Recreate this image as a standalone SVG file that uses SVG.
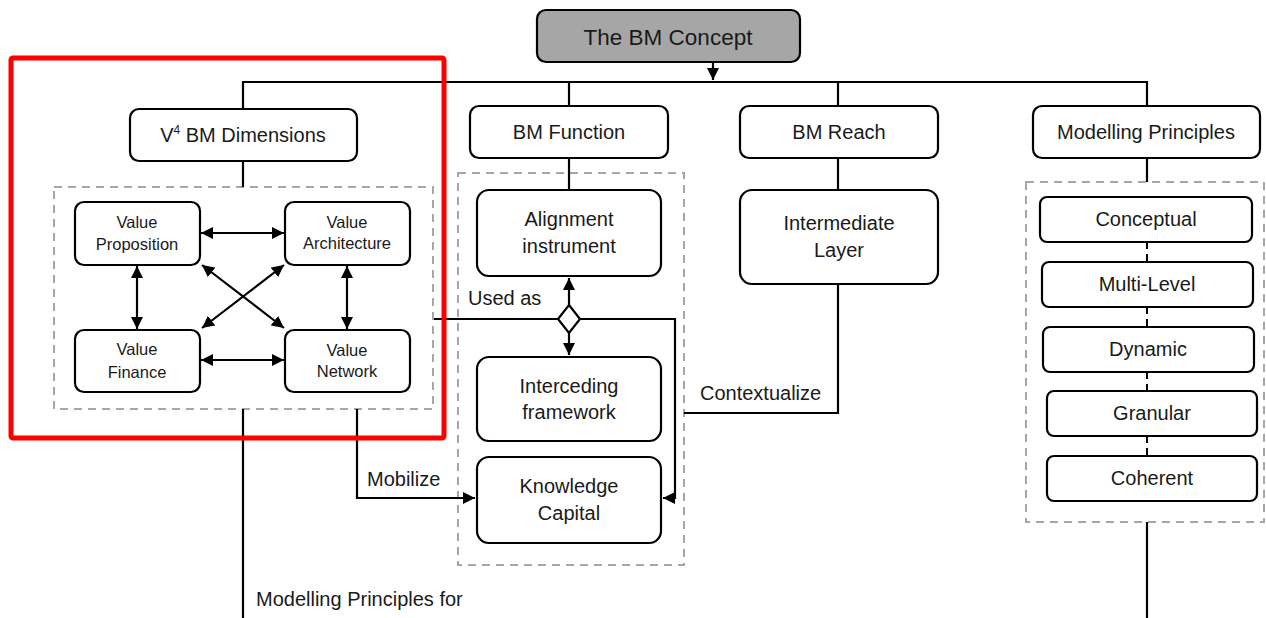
<svg xmlns="http://www.w3.org/2000/svg" width="1266" height="618" viewBox="0 0 1266 618">
  <style>
    .box { fill: #ffffff; stroke: #000000; stroke-width: 2.2; }
    .root { fill: #a6a6a6; stroke: #000000; stroke-width: 2.2; }
    .group { fill: none; stroke: #a6a6a6; stroke-width: 2; stroke-dasharray: 8 6; }
    .line { fill: none; stroke: #000000; stroke-width: 2.2; }
    .dash { fill: none; stroke: #000000; stroke-width: 2; stroke-dasharray: 7 5; }
    .t { font-family: "Liberation Sans", Arial, sans-serif; font-size: 20px; fill: #1a1a1a; text-anchor: middle; }
    .s { font-family: "Liberation Sans", Arial, sans-serif; font-size: 16.5px; fill: #1a1a1a; text-anchor: middle; }
    .lbl { font-family: "Liberation Sans", Arial, sans-serif; font-size: 20px; fill: #1a1a1a; }
  </style>
  <defs>
    <marker id="arr" viewBox="0 0 10 10" refX="10" refY="5" markerWidth="5.5" markerHeight="5.5" orient="auto-start-reverse" markerUnits="strokeWidth">
      <path d="M0,0 L10,5 L0,10 z" fill="#000000"/>
    </marker>
  </defs>

  <rect width="1266" height="618" fill="#ffffff"/>

  <!-- dashed grouping frames -->
  <rect class="group" x="54" y="187" width="379" height="222"/>
  <rect class="group" x="458" y="173" width="226" height="392"/>
  <rect class="group" x="1026" y="182" width="238" height="340"/>

  <!-- connectors -->
  <g id="connectors">
    <line class="line" x1="713" y1="62" x2="713" y2="80" marker-end="url(#arr)"/>
    <polyline class="line" points="243,109 243,82 1147,82 1147,106"/>
    <line class="line" x1="569" y1="82" x2="569" y2="106"/>
    <line class="line" x1="838" y1="82" x2="838" y2="106"/>
    <line class="line" x1="243" y1="161" x2="243" y2="187"/>
    <line class="line" x1="569" y1="158" x2="569" y2="190"/>
    <line class="line" x1="838" y1="158" x2="838" y2="190"/>
    <line class="line" x1="1147" y1="158" x2="1147" y2="182"/>

    <!-- value dimension links -->
    <line class="line" x1="201" y1="233" x2="284" y2="233" marker-start="url(#arr)" marker-end="url(#arr)"/>
    <line class="line" x1="201" y1="360" x2="284" y2="360" marker-start="url(#arr)" marker-end="url(#arr)"/>
    <line class="line" x1="137" y1="266" x2="137" y2="329" marker-start="url(#arr)" marker-end="url(#arr)"/>
    <line class="line" x1="347" y1="266" x2="347" y2="329" marker-start="url(#arr)" marker-end="url(#arr)"/>
    <line class="line" x1="202" y1="265" x2="284" y2="328" marker-start="url(#arr)" marker-end="url(#arr)"/>
    <line class="line" x1="284" y1="265" x2="202" y2="328" marker-start="url(#arr)" marker-end="url(#arr)"/>

    <!-- Used as -->
    <line class="line" x1="434" y1="319" x2="558" y2="319"/>
    <polyline class="line" points="580,319 675,319 675,498 663,498" marker-end="url(#arr)"/>
    <line class="line" x1="569" y1="305" x2="569" y2="278" marker-end="url(#arr)"/>
    <line class="line" x1="569" y1="333" x2="569" y2="355" marker-end="url(#arr)"/>
    <polygon points="569,305 580,319 569,333 558,319" fill="#ffffff" stroke="#000000" stroke-width="2.2"/>

    <!-- Mobilize -->
    <polyline class="line" points="357,409 357,498 475,498" marker-end="url(#arr)"/>
    <!-- Contextualize -->
    <polyline class="line" points="838,284 838,413 684,413"/>

    <!-- Modelling principles chain -->
    <line class="dash" x1="1147" y1="242" x2="1147" y2="262"/>
    <line class="dash" x1="1147" y1="307" x2="1147" y2="327"/>
    <line class="dash" x1="1147" y1="372" x2="1147" y2="391"/>
    <line class="dash" x1="1147" y1="436" x2="1147" y2="456"/>

    <line class="line" x1="243" y1="409" x2="243" y2="618"/>
    <line class="line" x1="1147" y1="522" x2="1147" y2="618"/>
  </g>

  <g id="bm-concept">
    <rect class="root" x="537" y="10" width="263" height="52" rx="9"/>
    <text class="t" x="668" y="45" style="font-size:22.5px">The BM Concept</text>
  </g>

  <g id="v4-dimensions">
    <rect class="box" x="130" y="109" width="227" height="52" rx="9"/>
    <text class="t" x="243" y="142">V<tspan font-size="12" dy="-8">4</tspan><tspan dy="8"> BM Dimensions</tspan></text>
  </g>
  <g id="value-proposition">
    <rect class="box" x="75" y="202" width="125" height="63" rx="9"/>
    <text class="s" x="137" y="228">Value</text>
    <text class="s" x="137" y="250">Proposition</text>
  </g>
  <g id="value-architecture">
    <rect class="box" x="285" y="202" width="125" height="63" rx="9"/>
    <text class="s" x="347" y="228">Value</text>
    <text class="s" x="347" y="249">Architecture</text>
  </g>
  <g id="value-finance">
    <rect class="box" x="75" y="330" width="125" height="62" rx="9"/>
    <text class="s" x="137" y="355">Value</text>
    <text class="s" x="137" y="378">Finance</text>
  </g>
  <g id="value-network">
    <rect class="box" x="285" y="330" width="125" height="62" rx="9"/>
    <text class="s" x="347" y="356">Value</text>
    <text class="s" x="347" y="377">Network</text>
  </g>

  <g id="bm-function">
    <rect class="box" x="470" y="106" width="198" height="52" rx="9"/>
    <text class="t" x="569" y="139">BM Function</text>
  </g>
  <g id="alignment-instrument">
    <rect class="box" x="477" y="190" width="184" height="86" rx="12"/>
    <text class="t" x="569" y="226">Alignment</text>
    <text class="t" x="569" y="253">instrument</text>
  </g>
  <g id="interceding-framework">
    <rect class="box" x="477" y="357" width="184" height="84" rx="12"/>
    <text class="t" x="569" y="393">Interceding</text>
    <text class="t" x="569" y="419">framework</text>
  </g>
  <g id="knowledge-capital">
    <rect class="box" x="477" y="457" width="184" height="86" rx="12"/>
    <text class="t" x="569" y="493">Knowledge</text>
    <text class="t" x="569" y="520">Capital</text>
  </g>

  <g id="bm-reach">
    <rect class="box" x="740" y="106" width="198" height="52" rx="9"/>
    <text class="t" x="839" y="139">BM Reach</text>
  </g>
  <g id="intermediate-layer">
    <rect class="box" x="740" y="190" width="198" height="94" rx="12"/>
    <text class="t" x="839" y="230">Intermediate</text>
    <text class="t" x="839" y="257">Layer</text>
  </g>

  <g id="modelling-principles">
    <rect class="box" x="1033" y="106" width="227" height="52" rx="9"/>
    <text class="t" x="1146" y="139">Modelling Principles</text>
  </g>
  <g id="conceptual">
    <rect class="box" x="1040" y="197" width="212" height="45" rx="7"/>
    <text class="t" x="1146" y="226">Conceptual</text>
  </g>
  <g id="multi-level">
    <rect class="box" x="1042" y="262" width="211" height="45" rx="7"/>
    <text class="t" x="1147" y="291">Multi-Level</text>
  </g>
  <g id="dynamic">
    <rect class="box" x="1043" y="327" width="211" height="45" rx="7"/>
    <text class="t" x="1148" y="356">Dynamic</text>
  </g>
  <g id="granular">
    <rect class="box" x="1047" y="391" width="210" height="45" rx="7"/>
    <text class="t" x="1152" y="420">Granular</text>
  </g>
  <g id="coherent">
    <rect class="box" x="1047" y="456" width="210" height="45" rx="7"/>
    <text class="t" x="1152" y="485">Coherent</text>
  </g>

  <!-- edge labels -->
  <text class="lbl" x="468" y="305">Used as</text>
  <text class="lbl" x="367" y="486">Mobilize</text>
  <text class="lbl" x="700" y="400">Contextualize</text>
  <text class="lbl" x="256" y="606">Modelling Principles for</text>

  <!-- highlight frame -->
  <rect x="11" y="58" width="433" height="380" fill="none" stroke="#ff0000" stroke-width="5" rx="2"/>
</svg>
